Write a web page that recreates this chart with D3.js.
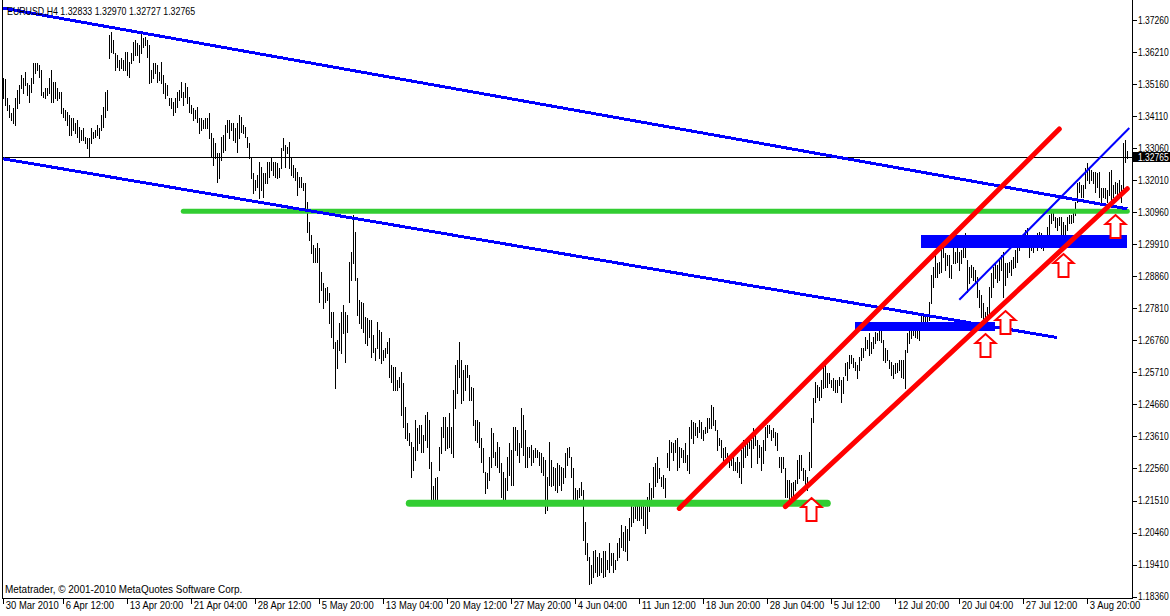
<!DOCTYPE html>
<html><head><meta charset="utf-8">
<script src="https://cdn.jsdelivr.net/npm/d3@7"></script>
<style>html,body{margin:0;padding:0;background:#fff;overflow:hidden}svg{display:block}</style>
</head><body>
<svg id="c" width="1170" height="616"></svg>
<script>
const symbolTitle = "EURUSD,H4";
const lastOHLC = ["1.32833", "1.32970", "1.32727", "1.32765"];
const lastClose = 1.32765;
const copyright = "Metatrader, \u00A9 2001-2010 MetaQuotes Software Corp.";
const priceTicks = [1.37260,1.36210,1.35160,1.34110,1.33060,1.32010,1.30960,1.29910,1.28860,1.27810,1.26760,1.25710,1.24660,1.23610,1.22560,1.21510,1.20460,1.19410,1.18360];
const timeLabels = ["30 Mar 2010","6 Apr 12:00","13 Apr 20:00","21 Apr 04:00","28 Apr 12:00","5 May 20:00","13 May 04:00","20 May 12:00","27 May 20:00","4 Jun 04:00","11 Jun 12:00","18 Jun 20:00","28 Jun 04:00","5 Jul 12:00","12 Jul 20:00","20 Jul 04:00","27 Jul 12:00","3 Aug 20:00"];
const timeLabelBars = [0,30,62,94,126,158,190,222,254,286,318,350,382,414,446,478,510,542];

const highs = [
1.3536,1.3533,1.3471,1.3448,1.3421,1.3438,1.3471,1.3497,1.3513,1.3546,
1.3536,1.3556,1.3520,1.3513,1.3536,1.3585,1.3585,1.3585,1.3579,1.3562,
1.3490,1.3503,1.3503,1.3536,1.3562,1.3523,1.3523,1.3503,1.3490,1.3490,
1.3438,1.3431,1.3425,1.3415,1.3405,1.3405,1.3389,1.3398,1.3376,1.3366,
1.3372,1.3343,1.3340,1.3340,1.3372,1.3359,1.3366,1.3382,1.3372,1.3415,
1.3441,1.3490,1.3497,1.3677,1.3687,1.3660,1.3618,1.3611,1.3595,1.3602,
1.3595,1.3621,1.3621,1.3588,1.3618,1.3654,1.3660,1.3651,1.3644,1.3683,
1.3667,1.3670,1.3660,1.3644,1.3562,1.3585,1.3585,1.3579,1.3556,1.3588,
1.3546,1.3520,1.3513,1.3471,1.3471,1.3457,1.3471,1.3490,1.3497,1.3523,
1.3490,1.3520,1.3507,1.3474,1.3448,1.3438,1.3431,1.3441,1.3405,1.3405,
1.3398,1.3405,1.3405,1.3421,1.3356,1.3340,1.3323,1.3290,1.3290,1.3343,
1.3349,1.3382,1.3398,1.3398,1.3389,1.3389,1.3372,1.3389,1.3415,1.3408,
1.3382,1.3376,1.3343,1.3323,1.3274,1.3225,1.3202,1.3218,1.3261,1.3245,
1.3225,1.3225,1.3261,1.3261,1.3277,1.3261,1.3261,1.3258,1.3241,1.3307,
1.3340,1.3317,1.3310,1.3326,1.3277,1.3251,1.3241,1.3228,1.3212,
1.3212,1.3192,1.3192,1.3130,1.3064,1.3022,1.2989,1.2979,1.2996,1.2979,
1.2901,1.2865,1.2848,1.2852,1.2832,1.2770,1.2770,1.2671,1.2678,1.2734,
1.2770,1.2793,1.2770,1.2760,1.2933,1.2966,1.3087,1.3032,1.2881,1.2809,
1.2802,1.2799,1.2753,1.2750,1.2743,1.2743,1.2694,1.2652,1.2737,1.2711,
1.2704,1.2645,1.2652,1.2671,1.2685,1.2596,1.2590,1.2590,1.2547,1.2557,
1.2573,1.2537,1.2459,1.2406,1.2373,1.2344,1.2328,1.2416,1.2390,1.2400,
1.2400,1.2367,1.2432,1.2442,1.2416,1.2278,1.2197,1.2226,1.2229,1.2328,
1.2393,1.2426,1.2426,1.2393,1.2439,1.2393,1.2514,1.2596,1.2612,1.2671,
1.2612,1.2580,1.2596,1.2596,1.2563,1.2524,1.2521,1.2416,1.2416,1.2409,
1.2357,1.2324,1.2246,1.2242,1.2295,1.2390,1.2373,1.2311,1.2344,1.2328,
1.2275,1.2246,1.2226,1.2292,1.2341,1.2318,1.2393,1.2393,1.2383,1.2341,
1.2455,1.2432,1.2383,1.2328,1.2328,1.2334,1.2318,1.2324,1.2318,1.2311,
1.2308,1.2295,1.2285,1.2229,1.2344,1.2285,1.2262,1.2259,1.2275,1.2269,
1.2262,1.2259,1.2308,1.2324,1.2328,1.2292,1.2259,1.2193,1.2187,1.2193,
1.2213,1.2187,1.2079,1.2013,1.1967,
1.1941,1.1984,1.1990,1.1967,1.1980,1.1964,1.1984,1.1984,1.1957,1.2013,
1.1980,1.1980,1.1957,1.2013,1.2029,1.2072,1.2049,1.2066,1.2056,1.2095,
1.2138,1.2131,1.2144,1.2138,1.2138,1.2144,1.2144,1.2131,1.2161,1.2210,
1.2193,1.2262,1.2275,1.2295,1.2259,1.2229,1.2236,1.2226,1.2308,1.2350,
1.2344,1.2341,1.2350,1.2357,1.2328,1.2324,1.2318,1.2341,1.2301,1.2393,
1.2416,1.2409,1.2406,1.2393,1.2416,1.2409,1.2383,1.2393,1.2423,1.2423,
1.2465,1.2459,1.2416,1.2383,1.2357,1.2350,1.2324,1.2328,1.2308,1.2295,
1.2295,1.2308,1.2278,1.2295,1.2278,1.2318,1.2350,1.2344,1.2350,1.2357,
1.2350,1.2390,1.2383,1.2350,1.2334,1.2328,1.2350,1.2393,1.2400,1.2400,
1.2383,1.2390,1.2377,1.2373,1.2292,1.2295,1.2292,1.2259,1.2219,1.2219,
1.2210,1.2213,1.2219,1.2285,1.2301,1.2301,1.2259,1.2252,1.2229,1.2311,
1.2423,1.2488,1.2540,1.2531,1.2524,1.2547,1.2590,1.2606,1.2570,1.2570,
1.2547,1.2554,1.2547,1.2547,1.2557,1.2547,1.2557,1.2603,1.2606,1.2629,
1.2629,1.2619,1.2606,1.2596,1.2622,1.2652,1.2652,1.2688,1.2678,1.2701,
1.2671,1.2688,1.2704,1.2701,
1.2711,1.2721,1.2678,1.2652,1.2645,1.2612,1.2606,1.2596,1.2603,1.2603,
1.2612,1.2612,1.2612,1.2645,1.2701,1.2737,1.2737,1.2737,1.2734,1.2727,
1.2721,1.2760,1.2766,1.2760,1.2753,1.2802,1.2891,1.2917,1.2963,1.2930,
1.2933,1.2989,1.3012,1.2963,1.2956,1.2956,1.2924,1.2989,1.2966,1.2979,
1.2966,1.2973,1.2996,1.3028,1.2940,1.2917,1.2924,1.2917,1.2907,1.2884,
1.2842,1.2825,1.2799,1.2770,1.2786,1.2852,1.2897,1.2917,1.2930,1.2924,
1.2940,1.2956,1.2966,1.2930,1.2930,1.2933,1.2940,1.2950,1.2973,1.2996,
1.2999,1.3012,1.3022,1.3038,1.3045,1.3015,1.3015,1.3012,1.3015,1.3028,
1.3032,1.3028,1.3015,1.3022,1.3048,1.3087,1.3097,1.3104,1.3081,1.3078,
1.3081,1.3081,1.3064,1.3055,1.3081,1.3087,1.3087,1.3094,1.3130,1.3192,
1.3195,1.3186,1.3186,1.3241,1.3258,1.3245,1.3235,1.3228,1.3228,1.3225,
1.3228,1.3176,1.3176,1.3176,1.3169,1.3228,1.3235,1.3186,1.3195,1.3192,
1.3202,1.3186,1.3323,1.3333,1.3297
];
const lows = [
1.3471,1.3448,1.3431,1.3408,1.3398,1.3389,1.3382,1.3438,1.3454,1.3503,
1.3487,1.3513,1.3480,1.3457,1.3490,1.3520,1.3552,1.3562,1.3539,1.3480,
1.3474,1.3471,1.3480,1.3487,1.3457,1.3457,1.3471,1.3464,1.3471,1.3421,
1.3408,1.3398,1.3382,1.3349,1.3349,1.3366,1.3356,1.3343,1.3326,1.3333,
1.3333,1.3323,1.3307,1.3277,1.3323,1.3340,1.3343,1.3349,1.3340,1.3366,
1.3376,1.3408,1.3431,1.3602,1.3621,1.3618,1.3562,1.3572,1.3562,1.3569,
1.3562,1.3562,1.3546,1.3539,1.3585,1.3595,1.3611,1.3611,1.3588,1.3618,
1.3638,1.3644,1.3605,1.3520,1.3523,1.3536,1.3552,1.3523,1.3529,1.3520,
1.3487,1.3471,1.3480,1.3448,1.3438,1.3415,1.3425,1.3441,1.3464,1.3474,
1.3448,1.3474,1.3454,1.3425,1.3421,1.3398,1.3405,1.3392,1.3356,1.3366,
1.3372,1.3372,1.3372,1.3340,1.3277,1.3251,1.3274,1.3195,1.3209,1.3267,
1.3294,1.3300,1.3359,1.3340,1.3366,1.3333,1.3326,1.3294,1.3340,1.3359,
1.3356,1.3343,1.3310,1.3274,1.3209,1.3159,1.3169,1.3179,1.3143,1.3169,
1.3146,1.3192,1.3192,1.3212,1.3235,1.3218,1.3212,1.3209,1.3212,1.3241,
1.3300,1.3245,1.3290,1.3241,1.3218,1.3212,1.3202,1.3153,1.3179,
1.3179,1.3169,1.3110,1.3032,1.3005,1.2963,1.2933,1.2933,1.2933,1.2802,
1.2842,1.2783,1.2802,1.2809,1.2734,1.2688,1.2652,1.2521,1.2586,1.2645,
1.2635,1.2701,1.2606,1.2704,1.2802,1.2874,1.2930,1.2874,1.2760,1.2734,
1.2717,1.2704,1.2668,1.2662,1.2688,1.2622,1.2639,1.2612,1.2652,1.2619,
1.2603,1.2612,1.2622,1.2635,1.2557,1.2540,1.2514,1.2514,1.2514,1.2524,
1.2432,1.2393,1.2357,1.2350,1.2334,1.2229,1.2252,1.2285,1.2318,1.2341,
1.2311,1.2311,1.2350,1.2328,1.2259,1.2138,1.2138,1.2144,1.2138,1.2252,
1.2308,1.2360,1.2318,1.2324,1.2328,1.2308,1.2292,1.2455,1.2504,1.2557,
1.2472,1.2481,1.2514,1.2557,1.2481,1.2481,1.2400,1.2350,1.2344,1.2328,
1.2278,1.2246,1.2177,1.2193,1.2219,1.2262,1.2295,1.2269,1.2262,1.2246,
1.2164,1.2144,1.2138,1.2187,1.2236,1.2203,1.2203,1.2318,1.2301,1.2278,
1.2328,1.2301,1.2262,1.2262,1.2295,1.2269,1.2278,1.2292,1.2295,1.2269,
1.2246,1.2236,1.2111,1.2121,1.2203,1.2197,1.2203,1.2187,1.2180,1.2203,
1.2187,1.2210,1.2229,1.2269,1.2292,1.2229,1.2144,1.2144,1.2138,1.2164,
1.2170,1.2023,1.1974,1.1957,1.1876,
1.1882,1.1899,1.1918,1.1902,1.1908,1.1918,1.1899,1.1902,1.1925,1.1915,
1.1941,1.1918,1.1925,1.1957,1.1967,1.2000,1.1990,1.1984,1.1957,1.2023,
1.2066,1.2079,1.2095,1.2088,1.2088,1.2095,1.2072,1.2046,1.2062,1.2115,
1.2144,1.2164,1.2197,1.2213,1.2226,1.2197,1.2193,1.2164,1.2262,1.2252,
1.2311,1.2285,1.2311,1.2252,1.2262,1.2292,1.2278,1.2278,1.2252,1.2242,
1.2357,1.2341,1.2367,1.2360,1.2377,1.2357,1.2350,1.2373,1.2377,1.2390,
1.2390,1.2400,1.2383,1.2318,1.2334,1.2295,1.2285,1.2292,1.2278,1.2262,
1.2269,1.2252,1.2252,1.2246,1.2229,1.2210,1.2262,1.2292,1.2301,1.2324,
1.2262,1.2324,1.2334,1.2275,1.2295,1.2252,1.2275,1.2318,1.2360,1.2373,
1.2350,1.2360,1.2334,1.2318,1.2262,1.2246,1.2259,1.2164,1.2164,1.2154,
1.2161,1.2170,1.2187,1.2210,1.2226,1.2252,1.2219,1.2197,1.2187,1.2252,
1.2262,1.2409,1.2475,1.2491,1.2481,1.2491,1.2521,1.2524,1.2524,1.2537,
1.2524,1.2514,1.2508,1.2508,1.2531,1.2475,1.2504,1.2563,1.2547,1.2586,
1.2603,1.2590,1.2580,1.2554,1.2580,1.2612,1.2622,1.2645,1.2652,1.2629,
1.2635,1.2652,1.2668,1.2678,
1.2678,1.2671,1.2612,1.2606,1.2612,1.2586,1.2563,1.2554,1.2570,1.2573,
1.2580,1.2557,1.2554,1.2521,1.2639,1.2668,1.2685,1.2694,1.2688,1.2685,
1.2678,1.2711,1.2721,1.2711,1.2711,1.2743,1.2799,1.2852,1.2884,1.2884,
1.2897,1.2901,1.2950,1.2907,1.2924,1.2884,1.2881,1.2930,1.2930,1.2933,
1.2907,1.2930,1.2950,1.2950,1.2835,1.2865,1.2884,1.2874,1.2868,1.2819,
1.2786,1.2753,1.2737,1.2734,1.2737,1.2760,1.2819,1.2852,1.2881,1.2868,
1.2874,1.2907,1.2819,1.2858,1.2884,1.2901,1.2891,1.2914,1.2917,1.2933,
1.2973,1.2983,1.2989,1.2983,1.2996,1.2950,1.2973,1.2966,1.2983,1.2973,
1.2989,1.2979,1.2973,1.2983,1.2996,1.2999,1.3061,1.3071,1.3048,1.3038,
1.3055,1.2983,1.3015,1.3015,1.3038,1.3061,1.3061,1.3064,1.3087,1.3130,
1.3163,1.3146,1.3146,1.3176,1.3202,1.3192,1.3202,1.3192,1.3163,1.3179,
1.3146,1.3130,1.3146,1.3143,1.3130,1.3153,1.3130,1.3146,1.3159,1.3143,
1.3163,1.3130,1.3176,1.3261,1.3273
];

// Drawn objects: [barIndex, price] anchors
const blueChannelLines = [[[0,1.3765],[562,1.3107]], [[0,1.3271],[527,1.2685]]];
const thinBlueLine = [[478,1.2809],[563,1.3372]];
const greenLevels = [[90,562,1.3099],[203,412,1.2142]];
const redLines = [[[338,1.2125],[528,1.3369]], [[391,1.2131],[562,1.3173]]];
const blueZones = [[426,496,1.2737,1.2707],[459,562,1.3022,1.2979]];
const upArrows = [[404,1.2164],[491,1.2701],[501,1.2774],[530,1.2962],[556,1.3091]];

const svg = d3.select("#c");
const FONT = "'Liberation Sans', Arial, sans-serif";
const axisX = 1132;
const plotBottom = 598;
const x = d3.scaleLinear().domain([0, highs.length - 1]).range([3.3, 1127.3]);
const y = d3.scaleLinear().domain([1.1836, 1.3726]).range([596.6, 20]);

svg.append("rect").attr("width",1170).attr("height",616).attr("fill","#fff");
svg.append("defs").append("clipPath").attr("id","plot")
  .append("rect").attr("x",3).attr("y",0).attr("width",axisX-3).attr("height",plotBottom);

const plot = svg.append("g").attr("clip-path","url(#plot)");

// current price line
const yc = Math.round(y(lastClose)) + 0.5;
plot.append("line").attr("x1",0).attr("x2",axisX).attr("y1",yc).attr("y2",yc)
  .attr("stroke","#000").attr("stroke-width",1).attr("shape-rendering","crispEdges");

// bars
plot.append("g").selectAll("line").data(highs).join("line")
  .attr("x1",(d,i)=>Math.round(x(i))+0.5).attr("x2",(d,i)=>Math.round(x(i))+0.5)
  .attr("y1",d=>Math.round(y(d))).attr("y2",(d,i)=>Math.round(y(lows[i]))+1)
  .attr("stroke","#000").attr("stroke-width",1).attr("shape-rendering","crispEdges");

function seg(g, p, color, w, cap, crisp){
  return g.append("line").attr("x1",x(p[0][0])).attr("y1",y(p[0][1]))
    .attr("x2",x(p[1][0])).attr("y2",y(p[1][1]))
    .attr("stroke",color).attr("stroke-width",w).attr("stroke-linecap",cap)
    .attr("shape-rendering",crisp?"crispEdges":"auto");
}
// green levels
greenLevels.forEach((d,k)=>{
  seg(plot, [[d[0],d[2]],[d[1],d[2]]], "#32CD32", k===0?5:7, "round", false);
});
// blue channel lines
blueChannelLines.forEach(p=>seg(plot, p, "#0000FF", 3, "butt", true));
// blue zones
plot.append("g").selectAll("rect").data(blueZones).join("rect")
  .attr("x",d=>x(d[0])).attr("width",d=>x(d[1])-x(d[0]))
  .attr("y",d=>y(d[2])).attr("height",d=>y(d[3])-y(d[2]))
  .attr("fill","#0000FF").attr("shape-rendering","crispEdges");
seg(plot, thinBlueLine, "#0000FF", 2, "butt", false);
// red lines
redLines.forEach(p=>seg(plot, p, "#FF0000", 5, "round", false));
// arrows
plot.append("g").selectAll("path").data(upArrows).join("path")
  .attr("transform",d=>`translate(${Math.round(x(d[0]))+0.5},${Math.round(y(d[1]))})`)
  .attr("d","M0,1 L10,10 L5,10 L5,24 L-5,24 L-5,10 L-10,10 Z")
  .attr("fill","#fff").attr("stroke","#FF0000").attr("stroke-width",2).attr("stroke-linejoin","miter");

// frame
svg.append("line").attr("x1",2.5).attr("x2",2.5).attr("y1",0).attr("y2",plotBottom+0.5)
  .attr("stroke","#000").attr("shape-rendering","crispEdges");
svg.append("line").attr("x1",2).attr("x2",axisX+1).attr("y1",plotBottom+0.5).attr("y2",plotBottom+0.5)
  .attr("stroke","#000").attr("shape-rendering","crispEdges");
svg.append("line").attr("x1",axisX+0.5).attr("x2",axisX+0.5).attr("y1",0).attr("y2",plotBottom+1)
  .attr("stroke","#000").attr("shape-rendering","crispEdges");

// price axis
const yAxis = d3.axisRight(y).tickValues(priceTicks).tickSize(4).tickPadding(2)
  .tickFormat(d3.format(".5f"));
const ya = svg.append("g").attr("transform",`translate(${axisX+0.5},0)`).call(yAxis);
ya.select(".domain").remove();
ya.selectAll(".tick line").attr("stroke","#000").attr("shape-rendering","crispEdges");
ya.selectAll(".tick text").attr("font-family",FONT).attr("font-size","10px").attr("fill","#000")
  .attr("x",0).attr("transform","translate(5.5,0) scale(0.85,1)");

// current price box
const yb = Math.round(y(lastClose));
svg.append("rect").attr("x",axisX+1).attr("y",yb-5).attr("width",37).attr("height",10).attr("fill","#000");
svg.append("text").attr("transform",`translate(${axisX+6},${yb+3.5}) scale(0.85,1)`)
  .attr("font-family",FONT).attr("font-size","10px").attr("fill","#fff")
  .text(d3.format(".5f")(lastClose));

// time axis
const xAxis = d3.axisBottom(x).tickValues(timeLabelBars).tickSize(5).tickFormat((d,i)=>timeLabels[i]);
const xa = svg.append("g").attr("transform",`translate(0,${plotBottom+0.5})`).call(xAxis);
xa.select(".domain").remove();
xa.selectAll(".tick line").attr("stroke","#000").attr("shape-rendering","crispEdges");
xa.selectAll(".tick text").attr("font-family",FONT).attr("font-size","10.5px").attr("fill","#000")
  .attr("text-anchor","start").attr("x",0).attr("y",3).attr("dy","0.71em")
  .attr("transform","translate(2,0) scale(0.9,1)");

// header and copyright
svg.append("text").attr("transform","translate(7,15) scale(0.84,1)").attr("font-family",FONT).attr("font-size","10.5px")
  .attr("fill","#000").text(symbolTitle + "  " + lastOHLC.join(" "));
svg.append("text").attr("transform","translate(5,593) scale(0.95,1)").attr("font-family",FONT).attr("font-size","10.5px")
  .attr("fill","#000").text(copyright);
</script>
</body></html>
